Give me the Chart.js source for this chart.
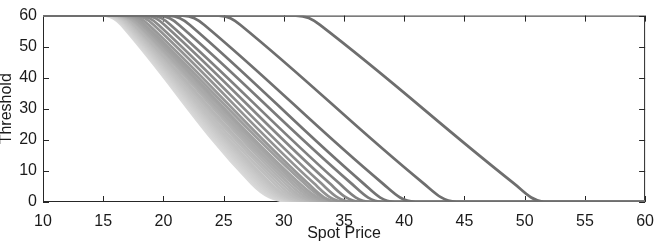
<!DOCTYPE html>
<html>
<head>
<meta charset="utf-8">
<script src="https://cdn.jsdelivr.net/npm/chart.js@4.4.1/dist/chart.umd.min.js"></script>
<style>
  html, body { margin: 0; padding: 0; background: #fff; }
  #wrap { width: 664px; height: 249px; }
</style>
</head>
<body>
<div id="wrap"><canvas id="mycanvas" width="664" height="249"></canvas></div>
<script>
// axis ticks
var xTicks = [10, 15, 20, 25, 30, 35, 40, 45, 50, 55, 60];
var yTicks = [0, 10, 20, 30, 40, 50, 60];

// each curve: flat at 60, knee, straight drop, knee, flat at 0
// x positions of the four knots, y levels shared
var knotY = [60, 57, 6, 0];
var curveKnots = [
	[31.0, 33.0, 49.1, 51.6],
	[24.6, 26.4, 41.6, 44.3],
	[21.6, 23.4, 38.2, 40.9],
	[20.4, 22.2, 36.6, 39.2],
	[19.6, 21.3, 35.6, 38.2],
	[19.0, 20.6, 34.6, 37.2],
	[18.5, 20.1, 33.8, 36.4],
	[18.0, 19.6, 33.1, 35.7],
	[17.6, 19.2, 32.5, 35.1],
	[17.2, 18.8, 32.0, 34.6],
	[17.0, 18.5, 31.7, 34.6],
	[16.8, 18.3, 31.3, 34.3],
	[16.7, 18.2, 31.0, 34.0],
	[16.6, 18.0, 30.7, 33.7],
	[16.5, 17.9, 30.4, 33.4],
	[16.4, 17.8, 30.1, 33.1],
	[16.3, 17.6, 29.8, 32.9],
	[16.2, 17.5, 29.5, 32.6],
	[16.1, 17.4, 29.2, 32.4],
	[16.0, 17.3, 28.9, 32.2],
	[15.9, 17.2, 28.7, 32.0],
	[15.8, 17.1, 28.5, 31.8],
	[15.7, 17.0, 28.3, 31.6],
	[15.6, 16.9, 28.1, 31.4],
	[15.5, 16.8, 27.9, 31.2],
	[15.4, 16.7, 27.7, 31.0],
	[15.3, 16.6, 27.5, 30.8],
	[15.2, 16.5, 27.3, 30.6]
];
// grey level of each curve, dark to light
var curveGrey = [110, 110, 112, 115, 122, 128, 134, 140, 146, 152,
	158, 162, 166, 170, 174, 178, 182, 186, 190, 193,
	196, 199, 202, 205, 208, 211, 214, 217];

var datasets = [];
for (var i in curveKnots) {
	var k = curveKnots[i];
	var pts = [{x: 10, y: 60}];
	for (var j = 0; j < k.length; j++) {
		pts.push({x: k[j], y: knotY[j]});
	}
	pts.push({x: 60, y: 0});
	var g = curveGrey[i];
	datasets.push({
		data: pts,
		borderColor: 'rgb(' + g + ',' + g + ',' + g + ')',
		borderWidth: 2.7,
		pointRadius: 0,
		fill: false,
		tension: 0.4
	});
}

var frame = {
	id: 'frame',
	beforeDatasetsDraw: function(chart) {
		var c = chart.ctx, a = chart.chartArea;
		var xs = chart.scales.x, ys = chart.scales.y;
		c.save();
		c.strokeStyle = '#262626';
		c.lineWidth = 1;
		c.strokeRect(a.left + 0.5, a.top + 0.5, a.right - a.left - 1, a.bottom - a.top - 1);
		c.beginPath();
		xTicks.forEach(function(v) {
			var px = Math.round(xs.getPixelForValue(v)) + 0.5;
			c.moveTo(px, a.bottom); c.lineTo(px, a.bottom - 6);
			c.moveTo(px, a.top); c.lineTo(px, a.top + 6);
		});
		yTicks.forEach(function(v) {
			var py = Math.round(ys.getPixelForValue(v)) + 0.5;
			c.moveTo(a.left, py); c.lineTo(a.left + 6, py);
			c.moveTo(a.right, py); c.lineTo(a.right - 6, py);
		});
		c.stroke();
		c.restore();
	}
};

var font = {family: '"Liberation Sans", Arial, sans-serif', size: 16};

new Chart(document.getElementById('mycanvas'), {
	type: 'line',
	data: {datasets: datasets},
	options: {
		responsive: false,
		animation: false,
		layout: {padding: {top: 6, right: 8, left: 0, bottom: 0}},
		plugins: {legend: {display: false}, tooltip: {enabled: false}},
		scales: {
			x: {
				type: 'linear', min: 10, max: 60,
				afterBuildTicks: function(s) { s.ticks = xTicks.map(function(v) { return {value: v}; }); },
				afterFit: function(s) { s.height = 47; },
				grid: {display: false, drawTicks: false},
				border: {display: false},
				ticks: {font: font, color: '#1a1a1a', padding: 10, maxRotation: 0},
				title: {display: true, text: 'Spot Price', font: font, color: '#1a1a1a', padding: {top: 0, bottom: 6}}
			},
			y: {
				min: 0, max: 60,
				afterBuildTicks: function(s) { s.ticks = yTicks.map(function(v) { return {value: v}; }); },
				afterFit: function(s) { s.width = 43; },
				grid: {display: false, drawTicks: false},
				border: {display: false},
				ticks: {font: font, color: '#1a1a1a', padding: 6},
				title: {display: true, text: 'Threshold', font: {family: font.family, size: 16, lineHeight: 1}, color: '#1a1a1a', padding: {top: -1, bottom: 0}}
			}
		}
	},
	plugins: [frame]
});
</script>
</body>
</html>
